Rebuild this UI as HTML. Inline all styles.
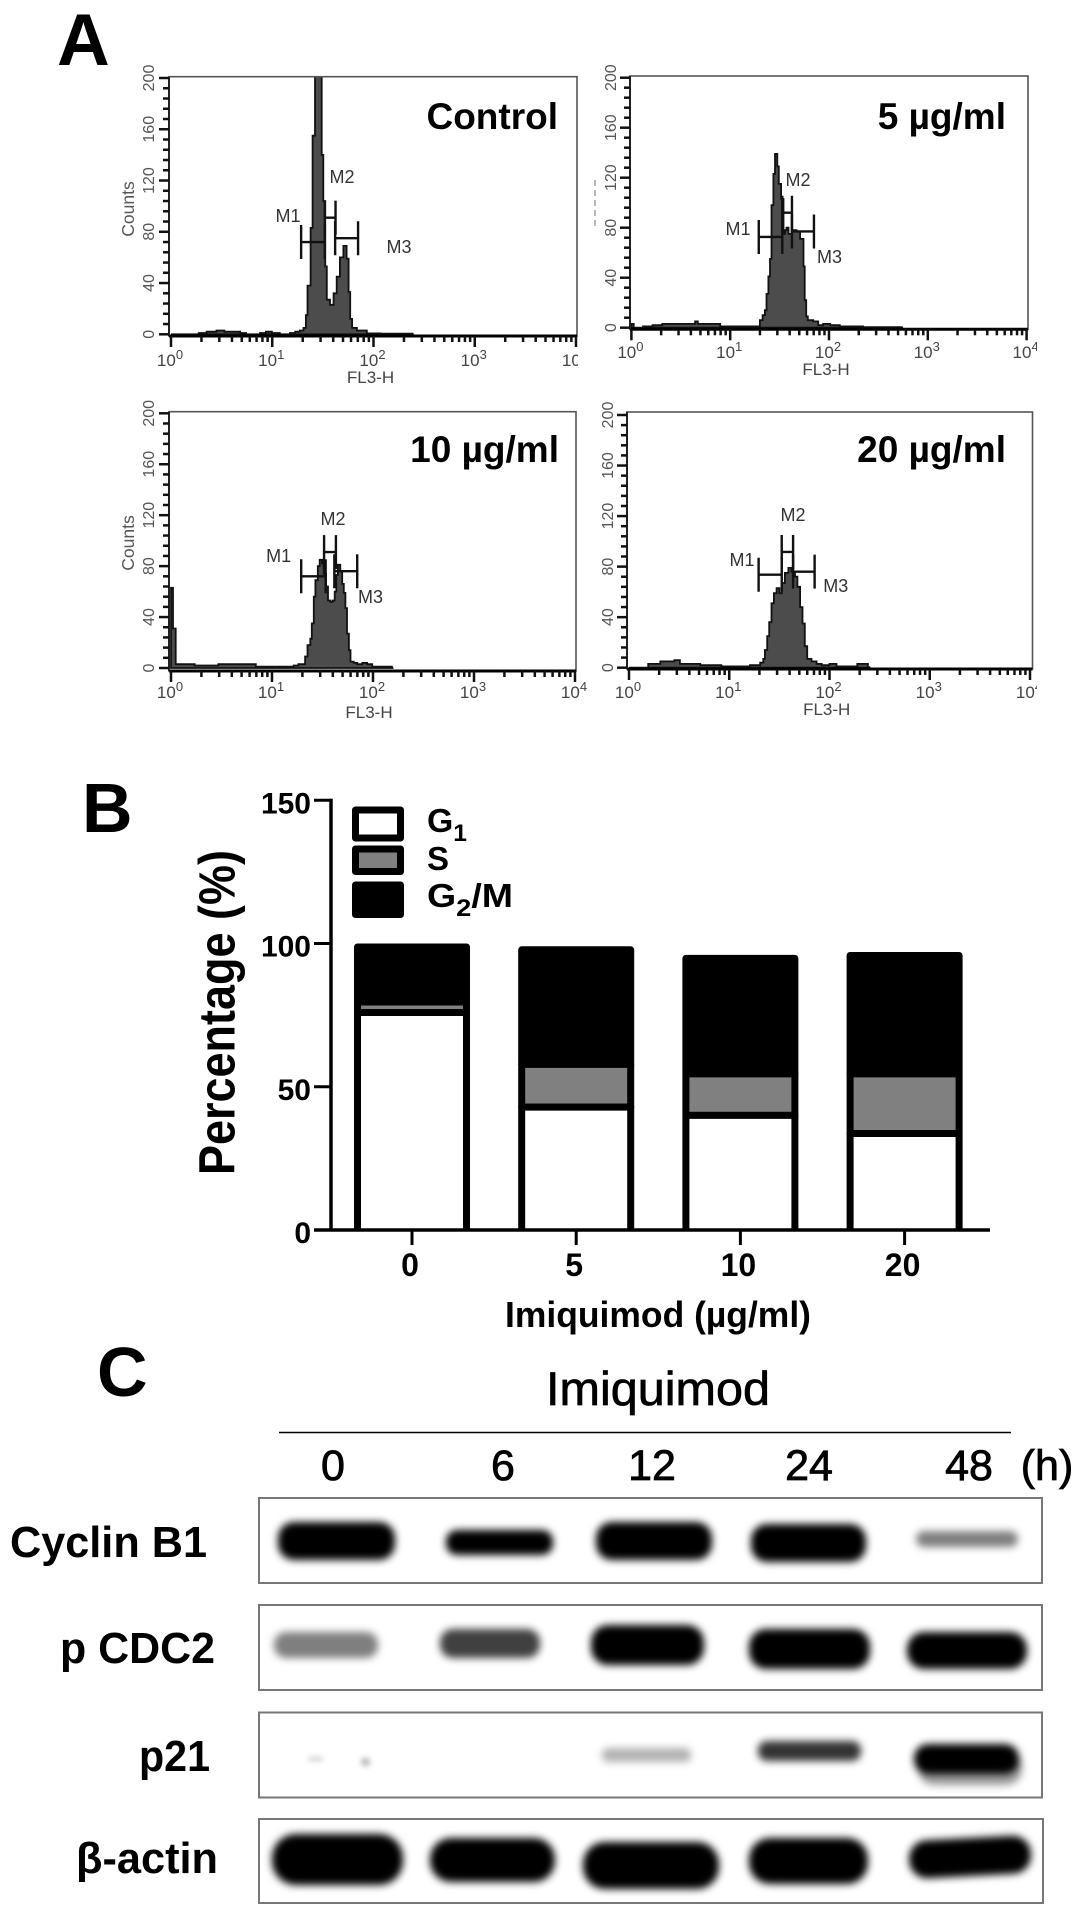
<!DOCTYPE html>
<html lang="en">
<head>
<meta charset="utf-8">
<title>Imiquimod cell cycle figure</title>
<style>
html,body{margin:0;padding:0;background:#fff;}
svg{display:block;font-family:"Liberation Sans",Arial,sans-serif;}
</style>
</head>
<body>
<svg id="figure" xmlns="http://www.w3.org/2000/svg" width="1087" height="1916" viewBox="0 0 1087 1916">
<defs>
<filter id="b3" x="-30%" y="-60%" width="160%" height="220%"><feGaussianBlur stdDeviation="3"/></filter>
<filter id="b5" x="-30%" y="-60%" width="160%" height="220%"><feGaussianBlur stdDeviation="4"/></filter>
</defs>
<rect x="0" y="0" width="1087" height="1916" fill="#fff"/>

<text x="57" y="65" font-size="73" font-weight="bold">A</text>
<text x="82" y="832" font-size="70" font-weight="bold">B</text>
<text x="97" y="1396" font-size="70" font-weight="bold">C</text>

<g id="flow"></g>
<g id="bars"></g>

<g>
<rect x="355.5" y="810" width="45" height="28" fill="#fff" stroke="#000" stroke-width="7" stroke-linejoin="round"/>
<rect x="355.5" y="849" width="45" height="22.5" fill="#808080" stroke="#000" stroke-width="7" stroke-linejoin="round"/>
<rect x="355.5" y="885" width="45" height="29.5" fill="#000" stroke="#000" stroke-width="7" stroke-linejoin="round"/>
<text x="427" y="832" font-size="33" font-weight="bold" textLength="40" lengthAdjust="spacingAndGlyphs">G<tspan dy="9" font-size="24">1</tspan></text>
<text x="427" y="870" font-size="33" font-weight="bold" textLength="22" lengthAdjust="spacingAndGlyphs">S</text>
<text x="427" y="907" font-size="33" font-weight="bold" textLength="86" lengthAdjust="spacingAndGlyphs">G<tspan dy="9" font-size="24">2</tspan><tspan dy="-9">/M</tspan></text>
</g>

<text transform="translate(234.5 1175) rotate(-90)" font-size="51" font-weight="bold" textLength="325" lengthAdjust="spacingAndGlyphs">Percentage (%)</text>
<text x="505" y="1327" font-size="36" font-weight="bold" textLength="306" lengthAdjust="spacingAndGlyphs">Imiquimod (µg/ml)</text>

<g>
<text x="546" y="1405" font-size="47" stroke="#000" stroke-width="0.7" textLength="224" lengthAdjust="spacingAndGlyphs">Imiquimod</text>
<line x1="279" y1="1432.5" x2="1011" y2="1432.5" stroke="#000" stroke-width="1.6"/>
<g font-size="43" stroke="#000" stroke-width="0.8" text-anchor="middle">
<text x="333" y="1480">0</text>
<text x="503" y="1480">6</text>
<text x="652" y="1480">12</text>
<text x="809" y="1480">24</text>
<text x="969" y="1480">48</text>
<text x="1047" y="1480">(h)</text>
</g>
<g font-size="44" font-weight="bold">
<text x="10" y="1557" textLength="197" lengthAdjust="spacingAndGlyphs">Cyclin B1</text>
<text x="60" y="1663" textLength="155" lengthAdjust="spacingAndGlyphs">p CDC2</text>
<text x="139" y="1771" textLength="71" lengthAdjust="spacingAndGlyphs">p21</text>
<text x="76" y="1873" textLength="142" lengthAdjust="spacingAndGlyphs">β-actin</text>
</g>

<g>
<rect x="259" y="1498" width="783" height="85" fill="#fff" stroke="#777" stroke-width="2"/>
<g filter="url(#b5)">
<rect x="278" y="1522" width="117" height="38" rx="16" fill="#000"/>
<rect x="446" y="1530" width="107" height="25" rx="11" fill="#000"/>
<rect x="596" y="1522" width="116" height="38" rx="16" fill="#000"/>
<rect x="751" y="1524" width="115" height="38" rx="16" fill="#000"/>
<rect x="916" y="1531" width="102" height="16" rx="8" fill="#000" opacity="0.5"/>
</g>
</g>

<g>
<rect x="259" y="1605" width="783" height="85" fill="#fff" stroke="#777" stroke-width="2"/>
<g filter="url(#b5)">
<rect x="274" y="1632" width="104" height="26" rx="12" fill="#000" opacity="0.5"/>
<rect x="440" y="1629" width="100" height="29" rx="13" fill="#000" opacity="0.75"/>
<rect x="591" y="1625" width="113" height="40" rx="17" fill="#000"/>
<rect x="749" y="1629" width="121" height="40" rx="17" fill="#000"/>
<rect x="907" y="1632" width="120" height="37" rx="17" fill="#000"/>
</g>
</g>

<g>
<rect x="259" y="1712.5" width="783" height="85" fill="#fff" stroke="#777" stroke-width="2"/>
<g filter="url(#b3)">
<rect x="308" y="1757" width="15" height="4" rx="2" fill="#000" opacity="0.2"/>
<rect x="361" y="1758" width="9" height="8" rx="4" fill="#000" opacity="0.3"/>
</g>
<g filter="url(#b5)">
<rect x="602" y="1748" width="89" height="14" rx="6" fill="#000" opacity="0.3"/>
<rect x="758" y="1741" width="103" height="20" rx="9" fill="#000" opacity="0.8"/>
<rect x="918" y="1750" width="104" height="35" rx="16" fill="#000" opacity="0.4"/>
<rect x="914" y="1744" width="105" height="30" rx="14" fill="#000"/>
</g>
</g>

<g>
<rect x="259" y="1819" width="784" height="84" fill="#fff" stroke="#777" stroke-width="2"/>
<g filter="url(#b5)">
<rect x="272" y="1834" width="131" height="51" rx="24" fill="#000"/>
<rect x="430" y="1838" width="125" height="44" rx="21" fill="#000"/>
<rect x="583" y="1842" width="136" height="47" rx="22" fill="#000"/>
<rect x="749" y="1838" width="119" height="46" rx="21" fill="#000"/>
<rect x="909" y="1838" width="122" height="38" rx="18" fill="#000" transform="rotate(-3 970 1856)"/>
</g>
</g>
</g>
</svg>

<script>
// ---- Panel A histogram data: FL3-H channel (256 per decade) and counts ----
const controlChannels = [0,70,90,115,135,175,190,225,240,255,275,301,314,326,335,341,345,353,358,364,381,385,390,394,402,411,419,427,436,444,449,453,458,470,495,530,570,610];
const controlCounts   = [0,1,2,3,2,1,0,1,2,1,0,1,2,3,5,15,38,83,155,210,140,104,53,27,23,32,45,60,69,59,33,12,5,3,0.7,0.5,0.5,0];
const dose5Channels = [0,6,30,55,80,150,165,172,230,300,333,340,346,350,355,359,363,368,372,378,382,388,394,398,402,407,415,428,437,446,449,453,457,471,484,497,515,540,600,700];
const dose5Counts   = [3,0,1,2,3,3,5,3,1,1,6,10,14,27,41,55,98,123,139,129,115,103,75,78,80,75,78,77,71,49,22,9,6,5,2,3,2,1,0.5,0];
const dose10Channels = [0,5,12,60,120,170,215,250,280,302,311,323,340,346,353,357,362,366,372,377,383,387,393,398,404,410,415,419,423,429,434,438,442,446,451,455,463,472,485,497,510,560];
const dose10Counts   = [63,31,3,2,3,3,1,1,1,1,2,3,9,18,23,35,56,69,80,85,82,74,64,53,52,53,60,73,81,76,66,59,47,27,14,5,4,3,4,3,1,0];
const dose20Channels = [0,49,80,116,130,182,236,280,309,322,335,343,347,353,358,364,370,377,384,390,398,407,415,424,430,437,443,449,455,466,479,492,512,530,583,610];
const dose20Counts   = [0,3,5,6,3,2,1,1,2,2,4,7,14,25,36,51,59,63,59,67,75,79,76,72,64,48,35,17,7,5,3,2,3,1,3,0.5];

// ---- Panel A gate markers: start channel, end channel, count level ----
const controlGateStarts = [329,389,415];
const controlGateEnds   = [389,416,473];
const controlGateLevels = [72,91,75];
const dose5GateStarts = [330,391,416];
const dose5GateEnds   = [391,416,473];
const dose5GateLevels = [72.6,92,77];
const dose10GateStarts = [330,388,414];
const dose10GateEnds   = [392,418,472];
const dose10GateLevels = [72,91,76];
const dose20GateStarts = [331,390,419];
const dose20GateEnds   = [390,419,474];
const dose20GateLevels = [73.6,91.6,76];

const countTickLabels = [0,40,80,120,160,200];
const gateNames = ['M1','M2','M3'];

// ---- Panel B data ----
const doseCategories = ['0','5','10','20'];
const g1Percent  = [75.9,42.9,40,33.7];
const sPercent   = [3.7,14.9,14.5,20.8];
const g2mPercent = [19.2,40,40.3,41.3];
const percentTicks = [0,50,100,150];

const NS = 'http://www.w3.org/2000/svg';
function make(tag, parent){
  const el = document.createElementNS(NS, tag);
  parent.appendChild(el);
  return el;
}
function setAll(el, names, values){
  names.forEach(function(n,i){ el.setAttribute(n, values[i]); });
}

function drawFlowPanel(p){
  const root = document.getElementById('flow');
  const g = make('g', root);
  
  
  const xS = function(ch){ return p.x0 + (p.x4 - p.x0) * ch / 1024; };
  const yS = function(c){ return p.y0 + (p.y200 - p.y0) * c / 200; };

  const clip = make('clipPath', g);
  clip.setAttribute('id', 'clip-' + p.key);
  const cr = make('rect', clip);
  setAll(cr, ['x','y','width','height'], [p.left, p.top, p.right - p.left, p.base - p.top]);
  const labelClip = make('clipPath', g);
  labelClip.setAttribute('id', 'label-clip-' + p.key);
  const lr = make('rect', labelClip);
  setAll(lr, ['x','y','width','height'], [p.left - 30, p.base, p.labelRight - p.left + 30, 60]);

  // histogram area
  let d = 'M' + xS(p.channels[0]) + ' ' + yS(0);
  p.channels.forEach(function(ch,i){
    const next = i + 1 < p.channels.length ? p.channels[i + 1] : ch + 4;
    d += 'L' + xS(ch).toFixed(1) + ' ' + yS(p.counts[i]).toFixed(1);
    d += 'L' + xS(next).toFixed(1) + ' ' + yS(p.counts[i]).toFixed(1);
  });
  d += 'L' + xS(p.channels[p.channels.length - 1] + 4).toFixed(1) + ' ' + yS(0) + 'Z';
  const area = make('path', g);
  
  
  setAll(area, ['d','fill','stroke','stroke-width','clip-path'], [d,'#4c4c4c','#111',1.8,'url(#clip-' + p.key + ')']);

  // frame
  const frame = make('rect', g);
  
  
  setAll(frame, ['x','y','width','height','fill','stroke','stroke-width'], [p.left, p.top, p.right - p.left, p.base - p.top, 'none', '#555', 1.6]);
  const baseLine = make('line', g);
  
  
  setAll(baseLine, ['x1','y1','x2','y2','stroke','stroke-width'], [p.left, p.base, p.right, p.base, '#000', 3]);
  const leftLine = make('line', g);
  
  
  setAll(leftLine, ['x1','y1','x2','y2','stroke','stroke-width'], [p.left, p.top, p.left, p.base, '#222', 2]);

  // y ticks
  for(let c = 0; c <= 200; c += 8){
    const major = c % 40 === 0;
    const t = make('line', g);
    
    
    setAll(t, ['x1','x2','y1','y2','stroke','stroke-width'], [p.left - (major ? 10 : 6), p.left, yS(c), yS(c), '#111', 2.5]);
  }
  countTickLabels.forEach(function(c){
    const t = make('text', g);
    
    
    setAll(t, ['transform','text-anchor','font-size','fill'], ['translate(' + p.yLabelX + ' ' + yS(c) + ') rotate(-90)', 'middle', 16, '#555']);
    t.textContent = String(c);
  });

  // x ticks
  for(let dec = 0; dec < 4; dec++){
    for(let k = 1; k < 10; k++){
      const x = xS(256 * (dec + Math.log10(k)));
      const t = make('line', g);
      
      
      setAll(t, ['x1','x2','y1','y2','stroke','stroke-width'], [x, x, p.base, p.base + (k === 1 ? 11 : 6), '#111', 2.5]);
    }
  }
  const endTick = make('line', g);
  
  
  setAll(endTick, ['x1','x2','y1','y2','stroke','stroke-width'], [xS(1024), xS(1024), p.base, p.base + 11, '#111', 2.5]);

  for(let dec = 0; dec <= 4; dec++){
    const t = make('text', g);
    
    
    setAll(t, ['x','y','text-anchor','font-size','fill','clip-path'], [xS(256 * dec) - 1, p.tickY, 'middle', 17, '#444', 'url(#label-clip-' + p.key + ')']);
    t.textContent = '10';
    const s = make('tspan', t);
    setAll(s, ['dy','font-size'], [-7, 13]);
    s.textContent = String(dec);
  }

  const fl = make('text', g);
  
  
  setAll(fl, ['x','y','text-anchor','font-size','fill'], [p.flX, p.flY, 'middle', 17, '#444']);
  fl.textContent = 'FL3-H';

  if(p.showCounts){
    const cl = make('text', g);
    
    
    setAll(cl, ['transform','text-anchor','font-size','fill'], ['translate(134 ' + p.countsY + ') rotate(-90)', 'middle', 17.5, '#555']);
    cl.textContent = 'Counts';
  } else {
    const ds = make('line', g);
    
    
    setAll(ds, ['x1','x2','y1','y2','stroke','stroke-width','stroke-dasharray'], [595, 595, 180, 230, '#999', 1.2, '6 4']);
  }

  // gates
  p.gateStarts.forEach(function(s,i){
    const x1 = xS(s), x2 = xS(p.gateEnds[i]), y = yS(p.gateLevels[i]);
    const gate = make('path', g);
    
    
    const dd = 'M' + x1 + ' ' + (y - 17) + 'V' + (y + 17) + 'M' + x1 + ' ' + y + 'H' + x2 + 'M' + x2 + ' ' + (y - 17) + 'V' + (y + 17);
    setAll(gate, ['d','fill','stroke','stroke-width'], [dd, 'none', '#111', 2.4]);
    const t = make('text', g);
    
    
    setAll(t, ['x','y','text-anchor','font-size','fill'], [p.gateLabelX[i], p.gateLabelY[i] + 6, 'middle', 18, '#333']);
    t.textContent = gateNames[i];
  });

  const title = make('text', g);
  
  
  setAll(title, ['x','y','text-anchor','font-size','font-weight','fill'], [p.titleRight, p.titleY, 'end', p.titleSize, 'bold', '#000']);
  title.textContent = p.title;
}

drawFlowPanel({key:'control',title:'Control',titleRight:558,titleY:129,titleSize:37,left:169,right:577,top:76.7,base:336,x0:171,x4:576,y0:334.3,y200:78,
  yLabelX:154,tickY:366,labelRight:578,flX:370.5,flY:383,showCounts:true,countsY:209,
  channels:controlChannels,counts:controlCounts,gateStarts:controlGateStarts,gateEnds:controlGateEnds,gateLevels:controlGateLevels,
  gateLabelX:[288,342,399],gateLabelY:[216,177,247]});
drawFlowPanel({key:'5-ug-ml',title:'5 µg/ml',titleRight:1006,titleY:129,titleSize:37,left:630,right:1028,top:76,base:329.3,x0:631.4,x4:1026.6,y0:327.7,y200:77.7,
  yLabelX:616,tickY:358,labelRight:1037,flX:826,flY:375,showCounts:false,countsY:0,
  channels:dose5Channels,counts:dose5Counts,gateStarts:dose5GateStarts,gateEnds:dose5GateEnds,gateLevels:dose5GateLevels,
  gateLabelX:[738,798,829.5],gateLabelY:[229,180,257]});
drawFlowPanel({key:'10-ug-ml',title:'10 µg/ml',titleRight:559,titleY:462,titleSize:37,left:169,right:576,top:411.7,base:671,x0:171,x4:575,y0:668,y200:413.3,
  yLabelX:154,tickY:698,labelRight:590,flX:369,flY:718,showCounts:true,countsY:543,
  channels:dose10Channels,counts:dose10Counts,gateStarts:dose10GateStarts,gateEnds:dose10GateEnds,gateLevels:dose10GateLevels,
  gateLabelX:[278.6,333,370.5],gateLabelY:[556,519,597]});
drawFlowPanel({key:'20-ug-ml',title:'20 µg/ml',titleRight:1006,titleY:462,titleSize:37,left:627,right:1032.5,top:412,base:669,x0:629,x4:1030,y0:667.7,y200:415,
  yLabelX:613,tickY:698,labelRight:1037,flX:826.7,flY:715,showCounts:false,countsY:0,
  channels:dose20Channels,counts:dose20Counts,gateStarts:dose20GateStarts,gateEnds:dose20GateEnds,gateLevels:dose20GateLevels,
  gateLabelX:[742,793,835.8],gateLabelY:[560,515,586]});

// ---- Panel B ----
(function(){
  const g = document.getElementById('bars');
  const yBar = function(v){ return 1230 - 2.865 * v; };
  const xBar = function(i){ return 412 + 164.2 * i; };
  const barW = 109;

  doseCategories.forEach(function(cat,i){
    const g1 = g1Percent[i], s = sPercent[i], g2 = g2mPercent[i];
    const left = xBar(i) - barW / 2, right = xBar(i) + barW / 2;
    const gt = make('rect', g);
    
    
    setAll(gt, ['x','y','width','height','fill','stroke','stroke-width','stroke-linejoin'], [left, yBar(g1 + s + g2), barW, yBar(g1 + s) - yBar(g1 + s + g2), '#000', '#000', 7, 'round']);
    const gs = make('rect', g);
    
    
    setAll(gs, ['x','y','width','height','fill','stroke','stroke-width','stroke-linejoin'], [left, yBar(g1 + s), barW, yBar(g1) - yBar(g1 + s), '#808080', '#000', 7, 'round']);
    const gb = make('path', g);
    
    
    const dg = 'M' + left + ' ' + yBar(0) + 'V' + yBar(g1) + 'H' + right + 'V' + yBar(0);
    setAll(gb, ['d','fill','stroke','stroke-width','stroke-linejoin'], [dg, '#fff', '#000', 7, 'round']);

    const tick = make('line', g);
    
    
    setAll(tick, ['x1','x2','y1','y2','stroke','stroke-width'], [xBar(i), xBar(i), yBar(0), yBar(0) + 15, '#000', 3]);
    const lab = make('text', g);
    
    
    setAll(lab, ['x','y','text-anchor','font-size','font-weight'], [xBar(i) - 2, 1276, 'middle', 32, 'bold']);
    lab.textContent = cat;
  });

  const yAxis = make('line', g);
  
  
  setAll(yAxis, ['x1','x2','y1','y2','stroke','stroke-width'], [331, 331, yBar(150) - 1.5, yBar(0) + 1.5, '#000', 3.5]);
  const xAxis = make('line', g);
  
  
  setAll(xAxis, ['x1','x2','y1','y2','stroke','stroke-width'], [314, 990, yBar(0), yBar(0), '#000', 3.5]);

  percentTicks.forEach(function(v){
    const t = make('line', g);
    
    
    setAll(t, ['x1','x2','y1','y2','stroke','stroke-width'], [314, 331, yBar(v), yBar(v), '#000', 3]);
    const l = make('text', g);
    
    
    setAll(l, ['x','y','text-anchor','font-size','font-weight'], [311, yBar(v) + 13, 'end', 30, 'bold']);
    l.textContent = String(v);
  });
})();
</script>
</body>
</html>
